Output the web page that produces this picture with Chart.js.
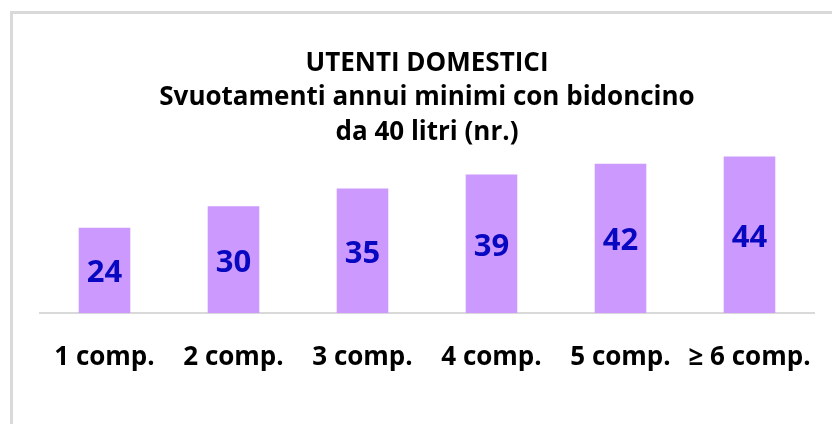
<!DOCTYPE html>
<html>
<head>
<meta charset="utf-8">
<script src="https://cdn.jsdelivr.net/npm/chart.js@4"></script>
<style>
  html, body { margin: 0; padding: 0; background: #fff; }
  #wrap { position: relative; width: 832px; height: 424px; overflow: hidden; }
  #frame { position: absolute; left: 10px; top: 11px; right: -20px; bottom: -20px;
           border-left: 3px solid #d9d9d9; border-top: 3px solid #d9d9d9; pointer-events: none; }
</style>
</head>
<body>
<div id="wrap">
  <canvas id="chart" width="832" height="424"></canvas>
  <div id="frame"></div>
</div>
<script>
/* ── Data ─────────────────────────────────── */
const categories = ['1 comp.', '2 comp.', '3 comp.', '4 comp.', '5 comp.', '\u2265 6 comp.'];
const svuotamenti = [24, 30, 35, 39, 42, 44];
const titleLines = ['UTENTI DOMESTICI', 'Svuotamenti annui minimi con bidoncino', 'da 40 litri (nr.)'];

const FONT = '"Open Sans", Lato, sans-serif';

/* ── Value labels inside bars ─────────────── */
const barLabels = {
  id: 'barLabels',
  afterDatasetsDraw(chart) {
    const ctx = chart.ctx;
    const meta = chart.getDatasetMeta(0);
    ctx.save();
    ctx.font = 'bold 31px ' + FONT;
    ctx.fillStyle = '#0808c0';
    ctx.textAlign = 'center';
    ctx.textBaseline = 'middle';
    meta.data.forEach((bar, i) => {
      const y = (bar.y + bar.base) / 2 + 3;
      ctx.fillText(String(chart.data.datasets[0].data[i]), bar.x, y);
    });
    ctx.restore();
  }
};

new Chart(document.getElementById('chart'), {
  type: 'bar',
  data: {
    labels: categories,
    datasets: [{
      data: svuotamenti,
      backgroundColor: '#cc99ff',
      borderWidth: 0,
      categoryPercentage: 1,
      barPercentage: 0.4,
    }]
  },
  options: {
    responsive: false,
    animation: false,
    layout: { padding: { left: 40, right: 18, top: 28, bottom: 0 } },
    plugins: {
      legend: { display: false },
      tooltip: { enabled: false },
      title: {
        display: true,
        text: titleLines,
        color: '#000',
        font: { family: FONT, size: 26, weight: 'bold', lineHeight: 1.327 },
        padding: { top: 18, bottom: 0 },
      },
    },
    scales: {
      x: {
        grid: { display: false, drawTicks: false },
        border: { display: true, color: '#d9d9d9', width: 2 },
        ticks: { color: '#000', font: { family: FONT, size: 26, weight: 'bold' }, padding: 29, maxRotation: 0, autoSkip: false },
        afterFit: s => { s.height = 111; s.paddingLeft = 0; s.paddingRight = 0; },
      },
      y: { display: false, min: 0, max: 46 },
    }
  },
  plugins: [barLabels]
});
</script>
</body>
</html>
